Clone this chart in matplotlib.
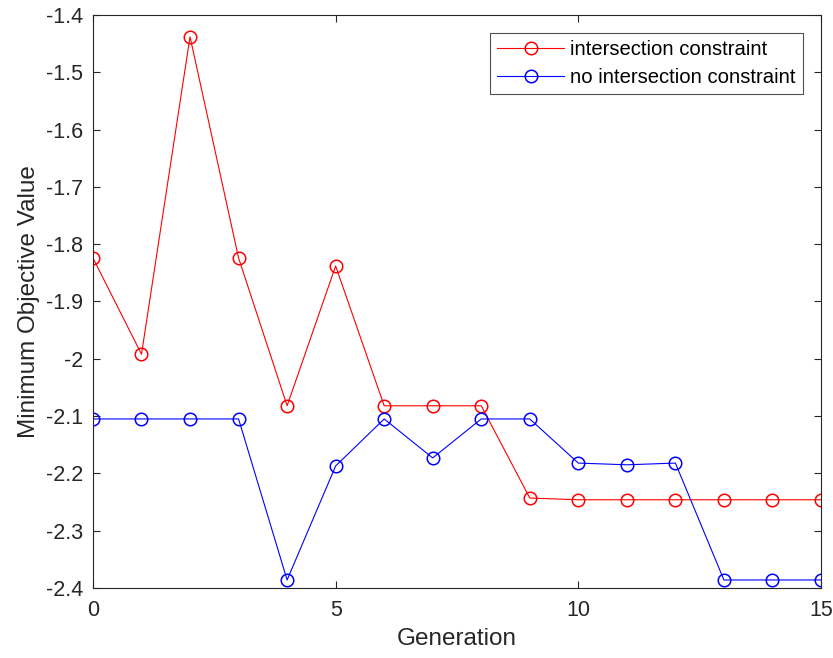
import matplotlib
matplotlib.use("Agg")
import matplotlib.pyplot as plt

plt.rcParams['font.family'] = ['Liberation Sans', 'DejaVu Sans']

generation = list(range(16))
with_constraint = [-1.824, -1.992, -1.438, -1.824, -2.082, -1.838, -2.082, -2.082,
                   -2.082, -2.243, -2.246, -2.246, -2.246, -2.246, -2.246, -2.246]
without_constraint = [-2.105, -2.105, -2.105, -2.105, -2.386, -2.187, -2.105, -2.173,
                      -2.105, -2.105, -2.182, -2.185, -2.182, -2.386, -2.386, -2.386]
x_ticks = [0, 5, 10, 15]
y_ticks = [-2.4, -2.3, -2.2, -2.1, -2.0, -1.9, -1.8, -1.7, -1.6, -1.5, -1.4]
y_tick_labels = ['-2.4', '-2.3', '-2.2', '-2.1', '-2', '-1.9', '-1.8', '-1.7', '-1.6', '-1.5', '-1.4']

fig = plt.figure(figsize=(8.33, 6.58), dpi=100)
ax = fig.add_axes([0.1116, 0.1064, 0.874, 0.8708])

ax.plot(generation, with_constraint, color='#ff0000', lw=0.8, marker='o', ms=9,
        mfc='none', mec='#ff0000', mew=1.1, label='intersection constraint')
ax.plot(generation, without_constraint, color='#0000ff', lw=0.8, marker='o', ms=9,
        mfc='none', mec='#0000ff', mew=1.1, label='no intersection constraint')

ax.set_xlim(0, 15)
ax.set_ylim(-2.4, -1.4)
ax.set_xticks(x_ticks)
ax.set_yticks(y_ticks)
ax.set_yticklabels(y_tick_labels)

axis_color = '#262626'
for side in ['left', 'bottom', 'top', 'right']:
    ax.spines[side].set_color(axis_color)
    ax.spines[side].set_linewidth(0.8)
ax.tick_params(direction='in', length=5, width=0.8, colors=axis_color,
               labelsize=15.5, top=True, right=True)
ax.tick_params(axis='x', pad=9)
ax.tick_params(axis='y', pad=7)
for lbl in ax.get_xticklabels() + ax.get_yticklabels():
    lbl.set_color(axis_color)

ax.set_xlabel('Generation', fontsize=17.5, color=axis_color, labelpad=5)
ax.set_ylabel('Minimum Objective Value', fontsize=17.5, color=axis_color, labelpad=4)

leg = ax.legend(loc='upper right', bbox_to_anchor=(0.975, 0.969), fontsize=14.6,
                frameon=True, fancybox=False, edgecolor=axis_color,
                handlelength=3.3, borderpad=0.35, labelspacing=0.45, handletextpad=0.3,
                borderaxespad=0)
leg.get_frame().set_linewidth(0.8)

fig.savefig('out.png', dpi=100, facecolor='white')
